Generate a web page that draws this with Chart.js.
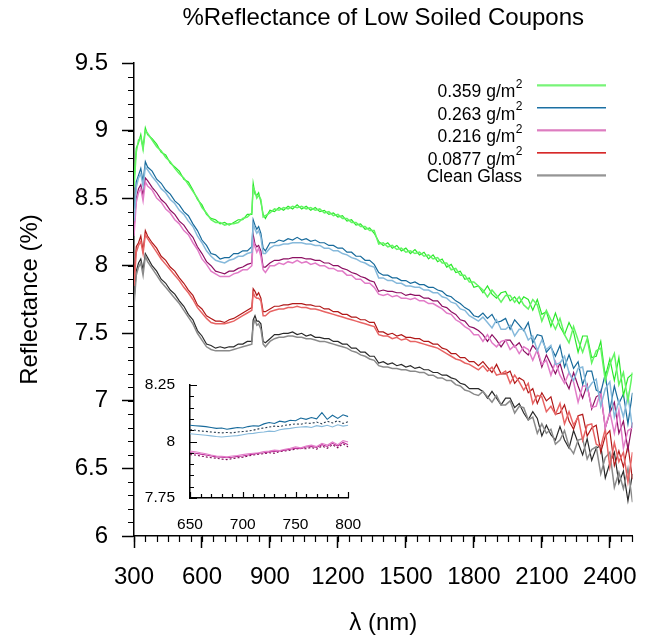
<!DOCTYPE html>
<html><head><meta charset="utf-8">
<script src="https://cdn.jsdelivr.net/npm/chart.js@4.4.1/dist/chart.umd.min.js"></script>
<style>
html,body{margin:0;padding:0;background:#fff;}
#wrap{position:relative;width:652px;height:639px;}
#main{position:absolute;left:0;top:0;}
#inset{position:absolute;left:130px;top:370px;}
</style>
</head><body>
<div id="wrap"><canvas id="main" width="652" height="639"></canvas><canvas id="inset" width="240" height="170"></canvas></div>
<script>
// ---------- DATA ----------
const chartTitle = '%Reflectance of Low Soiled Coupons';
const xTitle = 'λ (nm)';
const yTitle = 'Reflectance (%)';
const legendLabels = ['0.359 g/m²', '0.263 g/m²', '0.216 g/m²', '0.0877 g/m²', 'Clean Glass'];
const xTickValues = [300, 600, 900, 1200, 1500, 1800, 2100, 2400];
const yTickValues = [6, 6.5, 7, 7.5, 8, 8.5, 9, 9.5];
const insetXTicks = [650, 700, 750, 800];
const insetYTicks = [7.75, 8, 8.25];

const wavelengths = [300,310,320,330,340,350,360,380,400,420,440,460,480,500,520,540,560,580,600,620,640,660,680,700,720,740,760,780,800,820,826,834,842,850,860,870,880,900,920,940,960,980,1000,1020,1040,1060,1080,1100,1120,1140,1160,1180,1200,1220,1240,1260,1280,1300,1320,1340,1360,1380,1400,1420,1440,1460,1480,1500,1520,1540,1560,1580,1600,1620,1640,1660,1680,1700,1720,1740,1760,1780,1800,1820,1840,1860,1880,1900,1920,1940,1960,1980,2000,2020,2040,2060,2080,2100,2120,2140,2160,2180,2200,2220,2240,2260,2280,2300,2320,2340,2360,2380,2400,2420,2440,2460,2480,2500];

// 0.359 g/m2 replicates
const g359a = [8.62,8.87,8.91,8.97,8.87,9.02,8.97,8.94,8.90,8.84,
8.82,8.76,8.73,8.70,8.64,8.62,8.56,8.49,8.45,8.38,
8.35,8.34,8.31,8.32,8.30,8.32,8.34,8.34,8.38,8.38,
8.61,8.53,8.52,8.54,8.47,8.38,8.35,8.41,8.40,8.43,
8.41,8.44,8.42,8.45,8.42,8.44,8.41,8.43,8.40,8.41,
8.38,8.39,8.36,8.37,8.33,8.34,8.30,8.31,8.27,8.28,
8.24,8.18,8.15,8.17,8.13,8.15,8.11,8.13,8.09,8.12,
8.08,8.10,8.05,8.08,8.03,8.05,7.99,8.01,7.95,7.96,
7.90,7.91,7.84,7.85,7.80,7.85,7.79,7.76,7.80,7.81,
7.74,7.77,7.72,7.77,7.75,7.67,7.75,7.64,7.66,7.55,
7.65,7.55,7.49,7.58,7.51,7.36,7.48,7.48,7.32,7.33,
7.44,7.18,7.31,7.15,7.32,7.04,7.17,7.20];
const g359b = [8.58,8.84,8.93,8.95,8.86,9.00,8.98,8.93,8.88,8.85,
8.80,8.77,8.72,8.68,8.65,8.60,8.55,8.50,8.43,8.39,
8.34,8.32,8.32,8.30,8.31,8.31,8.32,8.35,8.36,8.39,
8.58,8.55,8.50,8.52,8.49,8.36,8.37,8.39,8.42,8.41,
8.43,8.42,8.44,8.43,8.44,8.42,8.43,8.41,8.42,8.39,
8.40,8.37,8.38,8.35,8.35,8.32,8.32,8.29,8.29,8.26,
8.26,8.16,8.17,8.14,8.15,8.12,8.13,8.10,8.11,8.09,
8.10,8.07,8.08,8.05,8.06,8.02,8.02,7.97,7.98,7.93,
7.93,7.88,7.88,7.85,7.82,7.77,7.82,7.78,7.73,7.78,
7.78,7.73,7.77,7.71,7.68,7.75,7.71,7.59,7.67,7.60,
7.53,7.61,7.49,7.43,7.55,7.45,7.36,7.46,7.28,7.37,
7.39,7.15,7.27,7.35,7.12,7.21,7.00,7.21];

// 0.263 g/m2 replicates
const g263a = [8.38,8.62,8.67,8.72,8.62,8.77,8.73,8.70,8.64,8.61,
8.56,8.53,8.48,8.45,8.40,8.37,8.31,8.26,8.19,8.15,
8.09,8.08,8.05,8.06,8.06,8.09,8.09,8.11,8.11,8.14,
8.34,8.30,8.27,8.29,8.24,8.13,8.11,8.17,8.17,8.19,
8.18,8.20,8.19,8.21,8.19,8.20,8.18,8.19,8.17,8.17,
8.15,8.15,8.13,8.13,8.10,8.10,8.07,8.07,8.04,8.04,
8.01,7.95,7.93,7.93,7.91,7.91,7.89,7.89,7.87,7.88,
7.86,7.86,7.84,7.84,7.82,7.81,7.78,7.77,7.74,7.72,
7.69,7.67,7.63,7.62,7.65,7.61,7.64,7.58,7.59,7.61,
7.53,7.60,7.56,7.52,7.58,7.43,7.49,7.48,7.36,7.40,
7.33,7.41,7.25,7.34,7.24,7.29,7.12,7.22,7.22,7.08,
7.06,7.20,6.93,7.11,6.98,7.05,6.83,7.06];
const g263b = [8.33,8.58,8.65,8.68,8.59,8.73,8.71,8.66,8.62,8.57,
8.54,8.49,8.46,8.41,8.38,8.33,8.29,8.22,8.17,8.11,
8.07,8.04,8.03,8.02,8.04,8.05,8.07,8.07,8.09,8.10,
8.31,8.27,8.24,8.26,8.21,8.09,8.09,8.13,8.15,8.15,
8.16,8.16,8.17,8.17,8.17,8.16,8.16,8.15,8.15,8.13,
8.13,8.11,8.11,8.09,8.08,8.06,8.05,8.03,8.02,8.00,
7.99,7.91,7.91,7.89,7.89,7.87,7.87,7.85,7.85,7.84,
7.84,7.82,7.82,7.80,7.80,7.77,7.76,7.73,7.72,7.68,
7.67,7.63,7.61,7.59,7.62,7.58,7.54,7.60,7.53,7.53,
7.56,7.48,7.53,7.53,7.45,7.48,7.37,7.45,7.38,7.41,
7.27,7.28,7.33,7.21,7.15,7.24,7.25,7.08,7.13,7.16,
6.96,7.09,7.14,6.88,7.00,6.88,7.04,6.80];

// 0.216 g/m2 replicates
const g216a = [8.27,8.50,8.57,8.60,8.52,8.65,8.63,8.58,8.54,8.49,
8.46,8.41,8.38,8.33,8.30,8.25,8.21,8.14,8.09,8.03,
8.00,7.96,7.95,7.94,7.96,7.96,7.98,7.99,8.01,8.02,
8.23,8.16,8.14,8.15,8.11,7.99,7.99,8.02,8.04,8.04,
8.05,8.05,8.06,8.06,8.06,8.05,8.05,8.04,8.04,8.02,
8.02,8.00,8.00,7.98,7.97,7.95,7.94,7.92,7.91,7.89,
7.88,7.81,7.82,7.81,7.81,7.80,7.80,7.78,7.79,7.78,
7.78,7.76,7.76,7.74,7.74,7.70,7.69,7.66,7.64,7.60,
7.59,7.55,7.54,7.52,7.49,7.44,7.49,7.45,7.40,7.45,
7.45,7.40,7.43,7.37,7.34,7.41,7.37,7.25,7.34,7.27,
7.20,7.28,7.16,7.09,7.21,7.11,7.02,7.12,6.94,7.03,
7.05,6.80,6.91,6.99,6.76,6.85,6.64,6.84];
const g216b = [8.22,8.47,8.54,8.57,8.48,8.62,8.59,8.56,8.50,8.47,
8.42,8.39,8.34,8.31,8.26,8.23,8.17,8.12,8.05,8.01,
7.96,7.94,7.92,7.92,7.92,7.94,7.95,7.97,7.97,8.00,
8.19,8.14,8.10,8.13,8.07,7.97,7.95,8.00,8.00,8.02,
8.01,8.03,8.02,8.04,8.02,8.03,8.01,8.02,8.00,8.00,
7.98,7.98,7.96,7.96,7.93,7.93,7.90,7.90,7.87,7.87,
7.84,7.79,7.78,7.79,7.77,7.78,7.76,7.76,7.75,7.76,
7.74,7.74,7.72,7.72,7.70,7.68,7.65,7.64,7.60,7.58,
7.55,7.53,7.49,7.49,7.44,7.49,7.43,7.40,7.44,7.45,
7.38,7.41,7.35,7.40,7.38,7.30,7.38,7.27,7.30,7.19,
7.29,7.19,7.13,7.21,7.14,6.99,7.11,7.11,6.95,6.96,
7.07,6.80,6.92,6.76,6.93,6.65,6.78,6.80];

// 0.0877 g/m2 replicates
const g0877a = [7.90,8.14,8.17,8.22,8.11,8.26,8.22,8.17,8.13,8.07,
8.04,7.99,7.96,7.91,7.87,7.82,7.78,7.71,7.68,7.63,
7.61,7.59,7.59,7.58,7.60,7.61,7.63,7.65,7.67,7.69,
7.83,7.81,7.78,7.80,7.76,7.66,7.66,7.68,7.70,7.70,
7.71,7.71,7.72,7.72,7.72,7.71,7.71,7.70,7.70,7.68,
7.68,7.66,7.66,7.64,7.64,7.62,7.62,7.60,7.60,7.58,
7.58,7.51,7.51,7.49,7.50,7.48,7.49,7.47,7.47,7.46,
7.46,7.44,7.44,7.42,7.42,7.39,7.38,7.35,7.35,7.32,
7.32,7.29,7.29,7.26,7.29,7.25,7.21,7.27,7.20,7.20,
7.22,7.13,7.17,7.15,7.06,7.09,6.98,7.06,7.00,7.03,
6.90,6.91,6.97,6.85,6.79,6.89,6.90,6.74,6.80,6.82,
6.62,6.74,6.78,6.52,6.63,6.51,6.67,6.42];
const g0877b = [7.85,8.10,8.15,8.18,8.09,8.23,8.20,8.15,8.10,8.05,
8.01,7.97,7.93,7.89,7.84,7.80,7.75,7.69,7.65,7.61,
7.58,7.57,7.57,7.57,7.58,7.59,7.61,7.63,7.65,7.67,
7.80,7.77,7.76,7.76,7.74,7.63,7.63,7.66,7.67,7.68,
7.68,7.69,7.69,7.70,7.69,7.69,7.68,7.68,7.67,7.66,
7.65,7.64,7.63,7.62,7.61,7.60,7.59,7.58,7.57,7.56,
7.55,7.49,7.48,7.48,7.46,7.47,7.45,7.46,7.44,7.44,
7.43,7.42,7.41,7.40,7.39,7.37,7.35,7.33,7.31,7.30,
7.28,7.27,7.25,7.23,7.26,7.22,7.25,7.19,7.20,7.22,
7.13,7.19,7.14,7.08,7.13,6.98,7.04,7.03,6.92,6.96,
6.90,6.98,6.83,6.92,6.82,6.88,6.71,6.82,6.83,6.68,
6.66,6.79,6.51,6.69,6.55,6.62,6.40,6.62];

// Clean glass replicates
const cleanA = [7.74,7.96,8.02,8.05,7.97,8.09,8.06,8.00,7.96,7.90,
7.87,7.82,7.79,7.74,7.70,7.64,7.60,7.52,7.48,7.42,
7.41,7.39,7.40,7.39,7.40,7.40,7.42,7.42,7.44,7.44,
7.60,7.63,7.59,7.59,7.57,7.44,7.43,7.46,7.49,7.49,
7.50,7.50,7.51,7.49,7.50,7.48,7.49,7.47,7.47,7.46,
7.46,7.44,7.44,7.42,7.42,7.39,7.39,7.36,7.36,7.33,
7.33,7.28,7.29,7.27,7.28,7.26,7.27,7.25,7.26,7.24,
7.25,7.23,7.23,7.21,7.21,7.19,7.19,7.17,7.16,7.13,
7.12,7.09,7.09,7.09,7.07,7.02,7.07,7.02,6.97,7.02,
7.02,6.95,6.98,6.91,6.86,6.92,6.87,6.74,6.82,6.75,
6.71,6.81,6.71,6.65,6.78,6.69,6.60,6.72,6.56,6.65,
6.67,6.43,6.54,6.62,6.39,6.48,6.26,6.46];
const cleanB = [7.70,7.93,7.99,8.02,7.93,8.07,8.03,7.98,7.93,7.88,
7.84,7.80,7.76,7.72,7.67,7.62,7.57,7.50,7.45,7.40,
7.38,7.37,7.37,7.37,7.37,7.38,7.39,7.40,7.41,7.42,
7.56,7.60,7.56,7.57,7.53,7.42,7.40,7.44,7.46,7.47,
7.47,7.48,7.48,7.47,7.47,7.46,7.46,7.45,7.44,7.44,
7.43,7.42,7.41,7.40,7.39,7.37,7.36,7.34,7.33,7.31,
7.30,7.26,7.25,7.25,7.24,7.24,7.23,7.23,7.22,7.22,
7.21,7.21,7.19,7.19,7.17,7.17,7.15,7.15,7.12,7.11,
7.08,7.07,7.05,7.04,7.07,7.03,6.99,7.04,6.97,6.97,
7.00,6.91,6.96,6.95,6.86,6.88,6.76,6.83,6.76,6.79,
6.68,6.71,6.78,6.66,6.61,6.71,6.72,6.57,6.64,6.66,
6.46,6.58,6.62,6.36,6.47,6.35,6.50,6.25];

// Inset (650-800 nm)
const insetWavelengths = [650,655,660,665,670,675,680,685,690,695,700,705,710,715,720,725,730,735,740,745,750,755,760,765,770,775,780,785,790,795,800];
const inset263dark = [8.072,8.070,8.068,8.066,8.062,8.058,8.060,8.054,8.058,8.062,8.060,8.066,8.070,8.068,8.078,8.084,8.080,8.090,8.086,8.094,8.092,8.104,8.098,8.106,8.100,8.128,8.098,8.116,8.102,8.118,8.110];
const inset263mid = [8.052,8.050,8.046,8.045,8.042,8.040,8.038,8.040,8.038,8.042,8.044,8.046,8.050,8.056,8.060,8.064,8.068,8.066,8.072,8.074,8.078,8.076,8.082,8.080,8.086,8.078,8.090,8.082,8.092,8.080,8.088];
const inset263light = [8.034,8.032,8.030,8.028,8.025,8.022,8.020,8.022,8.024,8.026,8.030,8.034,8.036,8.040,8.042,8.046,8.044,8.052,8.056,8.058,8.062,8.064,8.066,8.062,8.070,8.066,8.072,8.064,8.074,8.068,8.072];
const inset216light = [7.958,7.955,7.950,7.946,7.940,7.936,7.934,7.932,7.936,7.938,7.942,7.946,7.948,7.950,7.956,7.958,7.962,7.960,7.966,7.970,7.976,7.972,7.980,7.984,7.978,7.992,7.984,7.998,7.986,8.004,7.998];
const inset216dark = [7.942,7.940,7.936,7.932,7.928,7.926,7.922,7.920,7.924,7.928,7.930,7.936,7.940,7.944,7.946,7.950,7.948,7.956,7.958,7.962,7.966,7.970,7.968,7.974,7.966,7.980,7.970,7.986,7.972,7.990,7.976];
const inset216mid = [7.950,7.948,7.944,7.940,7.936,7.932,7.930,7.928,7.930,7.934,7.936,7.940,7.944,7.948,7.950,7.954,7.956,7.958,7.962,7.966,7.970,7.968,7.976,7.978,7.974,7.986,7.978,7.992,7.980,7.996,7.986];

// ---------- STYLE ----------
const FONT = "'Liberation Sans', Arial, sans-serif";
const groupStyles = [
  {light:'#62f562', dark:'#2ae82a', legend:'#33ee33', legendUnder:'#7cf57c'},
  {light:'#86b9db', dark:'#176a9b', legend:'#1f6f9e', legendUnder:'#86b9db'},
  {light:'#e27cc8', dark:'#8c0f62', legend:'#c8359c', legendUnder:'#e58cca'},
  {light:'#e86464', dark:'#b01818', legend:'#d42a2a', legendUnder:'#e87070'},
  {light:'#8a8a8a', dark:'#2a2a2a', legend:'#666666', legendUnder:'#8a8a8a'}
];
const groupSeries = [[g359a,g359b],[g263a,g263b],[g216a,g216b],[g0877a,g0877b],[cleanA,cleanB]];

function toPoints(xs, ys){ return xs.map((x,i)=>({x:x, y:ys[i]})); }

const mainDatasets = [];
groupSeries.forEach((pair, gi) => {
  const st = groupStyles[gi];
  mainDatasets.push({label:legendLabels[gi]+' a', data:toPoints(wavelengths, pair[1]), borderColor:st.light, borderWidth:1.5, pointRadius:0, fill:false, tension:0});
  mainDatasets.push({label:legendLabels[gi]+' b', data:toPoints(wavelengths, pair[0]), borderColor:st.dark, borderWidth:1.2, pointRadius:0, fill:false, tension:0});
});

const mainMinor = {
  id:'mainMinor',
  afterDraw(chart){
    const {ctx, chartArea:a, scales:{x, y}} = chart;
    ctx.save();
    ctx.strokeStyle = '#000'; ctx.lineWidth = 1.2;
    ctx.beginPath();
    for (let v = x.min; v <= x.max + 1e-6; v += 50) {
      const px = Math.round(x.getPixelForValue(v)) + 0.5;
      ctx.moveTo(px, a.bottom); ctx.lineTo(px, a.bottom + 6);
    }
    for (let k = 0; k <= Math.round((y.max - y.min) * 10); k++) {
      const py = Math.round(y.getPixelForValue(y.min + k * 0.1)) + 0.5;
      ctx.moveTo(a.left - 6, py); ctx.lineTo(a.left, py);
    }
    ctx.stroke();
    ctx.restore();
  }
};

const legendBox = {lineX0:537, lineX1:606, textRight:522, top:85, gap:22.5};
const customLegend = {
  id:'customLegend',
  afterDraw(chart){
    const ctx = chart.ctx;
    ctx.save();
    legendLabels.forEach((lab, i) => {
      const st = groupStyles[i];
      const ly = legendBox.top + i * legendBox.gap;
      ctx.lineWidth = 1;
      ctx.strokeStyle = st.legendUnder;
      ctx.beginPath(); ctx.moveTo(legendBox.lineX0, ly + 1); ctx.lineTo(legendBox.lineX1, ly + 1); ctx.stroke();
      ctx.lineWidth = 1.2;
      ctx.strokeStyle = st.legend;
      ctx.beginPath(); ctx.moveTo(legendBox.lineX0, ly); ctx.lineTo(legendBox.lineX1, ly); ctx.stroke();
      const hasSup = lab.indexOf('²') >= 0;
      const base = hasSup ? lab.replace('²', '') : lab;
      ctx.fillStyle = '#000'; ctx.textAlign = 'left'; ctx.textBaseline = 'alphabetic';
      ctx.font = '17.5px ' + FONT;
      const wb = ctx.measureText(base).width;
      let ws = 0;
      if (hasSup) { ctx.font = '12px ' + FONT; ws = ctx.measureText('2').width; }
      const tx = legendBox.textRight - wb - ws;
      const by = ly + (hasSup ? 12 : 6.7);
      ctx.font = '17.5px ' + FONT;
      ctx.fillText(base, tx, by);
      if (hasSup) { ctx.font = '12px ' + FONT; ctx.fillText('2', tx + wb + 0.5, by - 9.4); }
    });
    ctx.restore();
  }
};

new Chart(document.getElementById('main'), {
  type:'line',
  data:{datasets:mainDatasets},
  options:{
    responsive:false, animation:false, devicePixelRatio:1,
    layout:{padding:{left:0, right:19, top:0, bottom:0}},
    plugins:{
      legend:{display:false}, tooltip:{enabled:false},
      title:{display:true, text:chartTitle, fullSize:false, color:'#000', font:{family:FONT, size:24, weight:'normal'}, padding:{top:4, bottom:30.2}}
    },
    scales:{
      x:{
        type:'linear', min:300, max:2500,
        afterBuildTicks:s => { s.ticks = xTickValues.map(v => ({value:v})); },
        afterFit:s => { s.height = 103; },
        ticks:{font:{family:FONT, size:24}, color:'#000', padding:14.6, maxRotation:0, autoSkip:false, callback:v => String(v)},
        grid:{display:true, drawOnChartArea:false, drawTicks:true, tickLength:12, tickColor:'#000', tickWidth:1.5},
        border:{display:true, color:'#000', width:1.5},
        title:{display:true, text:xTitle, color:'#000', font:{family:FONT, size:24}, padding:{top:0, bottom:1.6}}
      },
      y:{
        type:'linear', min:6, max:9.5,
        afterBuildTicks:s => { s.ticks = yTickValues.map(v => ({value:v})); },
        afterFit:s => { s.width = 134; },
        ticks:{font:{family:FONT, size:24}, color:'#000', padding:14, autoSkip:false, callback:v => String(v)},
        grid:{display:true, drawOnChartArea:false, drawTicks:true, tickLength:12, tickColor:'#000', tickWidth:1.5},
        border:{display:true, color:'#000', width:1.5},
        title:{display:true, text:yTitle, color:'#000', font:{family:FONT, size:24}, padding:{top:15.6, bottom:0}}
      }
    }
  },
  plugins:[mainMinor, customLegend]
});

// ---------- INSET ----------
const insetDatasets = [
  {data:toPoints(insetWavelengths, inset263light), borderColor:'#86b9db', borderWidth:1.1, pointRadius:0, tension:0},
  {data:toPoints(insetWavelengths, inset263mid), borderColor:'#2b3f52', borderWidth:1.1, borderDash:[2,2], pointRadius:0, tension:0},
  {data:toPoints(insetWavelengths, inset263dark), borderColor:'#176a9b', borderWidth:1.1, pointRadius:0, tension:0},
  {data:toPoints(insetWavelengths, inset216light), borderColor:'#e27cc8', borderWidth:1.1, pointRadius:0, tension:0},
  {data:toPoints(insetWavelengths, inset216mid), borderColor:'#c0309a', borderWidth:1.1, pointRadius:0, tension:0},
  {data:toPoints(insetWavelengths, inset216dark), borderColor:'#7a0a55', borderWidth:1.1, borderDash:[2,2], pointRadius:0, tension:0}
];

const insetTicks = {
  id:'insetTicks',
  afterDraw(chart){
    const {ctx, chartArea:a, scales:{x, y}} = chart;
    ctx.save();
    ctx.strokeStyle = '#000'; ctx.lineWidth = 1.2;
    ctx.beginPath();
    for (let v = x.min; v <= x.max + 1e-6; v += 10) {
      const px = Math.round(x.getPixelForValue(v)) + 0.5;
      const len = insetXTicks.includes(v) ? 6 : 4;
      ctx.moveTo(px, a.bottom); ctx.lineTo(px, a.bottom - len);
    }
    for (let k = 0; k <= 10; k++) {
      const v = y.min + k * 0.05;
      const py = Math.round(y.getPixelForValue(v)) + 0.5;
      const len = (k % 5 === 0) ? 7 : 4;
      ctx.moveTo(a.left, py); ctx.lineTo(a.left + len, py);
    }
    ctx.stroke();
    ctx.restore();
  }
};

new Chart(document.getElementById('inset'), {
  type:'line',
  data:{datasets:insetDatasets},
  options:{
    responsive:false, animation:false, devicePixelRatio:1,
    layout:{padding:{left:0, right:21.7, top:15, bottom:0}},
    plugins:{legend:{display:false}, tooltip:{enabled:false}},
    scales:{
      x:{
        type:'linear', min:650, max:800,
        afterBuildTicks:s => { s.ticks = insetXTicks.map(v => ({value:v})); },
        afterFit:s => { s.height = 42; },
        ticks:{font:{family:FONT, size:15.5}, color:'#000', padding:0, maxRotation:0, autoSkip:false, callback:v => String(v)},
        grid:{display:false, drawTicks:true, tickLength:17, tickColor:'rgba(0,0,0,0)'},
        border:{display:true, color:'#000', width:1.5}
      },
      y:{
        type:'linear', min:7.75, max:8.25,
        afterBuildTicks:s => { s.ticks = insetYTicks.map(v => ({value:v})); },
        afterFit:s => { s.width = 60; },
        ticks:{font:{family:FONT, size:15.5}, color:'#000', padding:0, autoSkip:false, callback:v => String(v)},
        grid:{display:false, drawTicks:true, tickLength:15, tickColor:'rgba(0,0,0,0)'},
        border:{display:true, color:'#000', width:1.5}
      }
    }
  },
  plugins:[insetTicks]
});
</script>
</body></html>
